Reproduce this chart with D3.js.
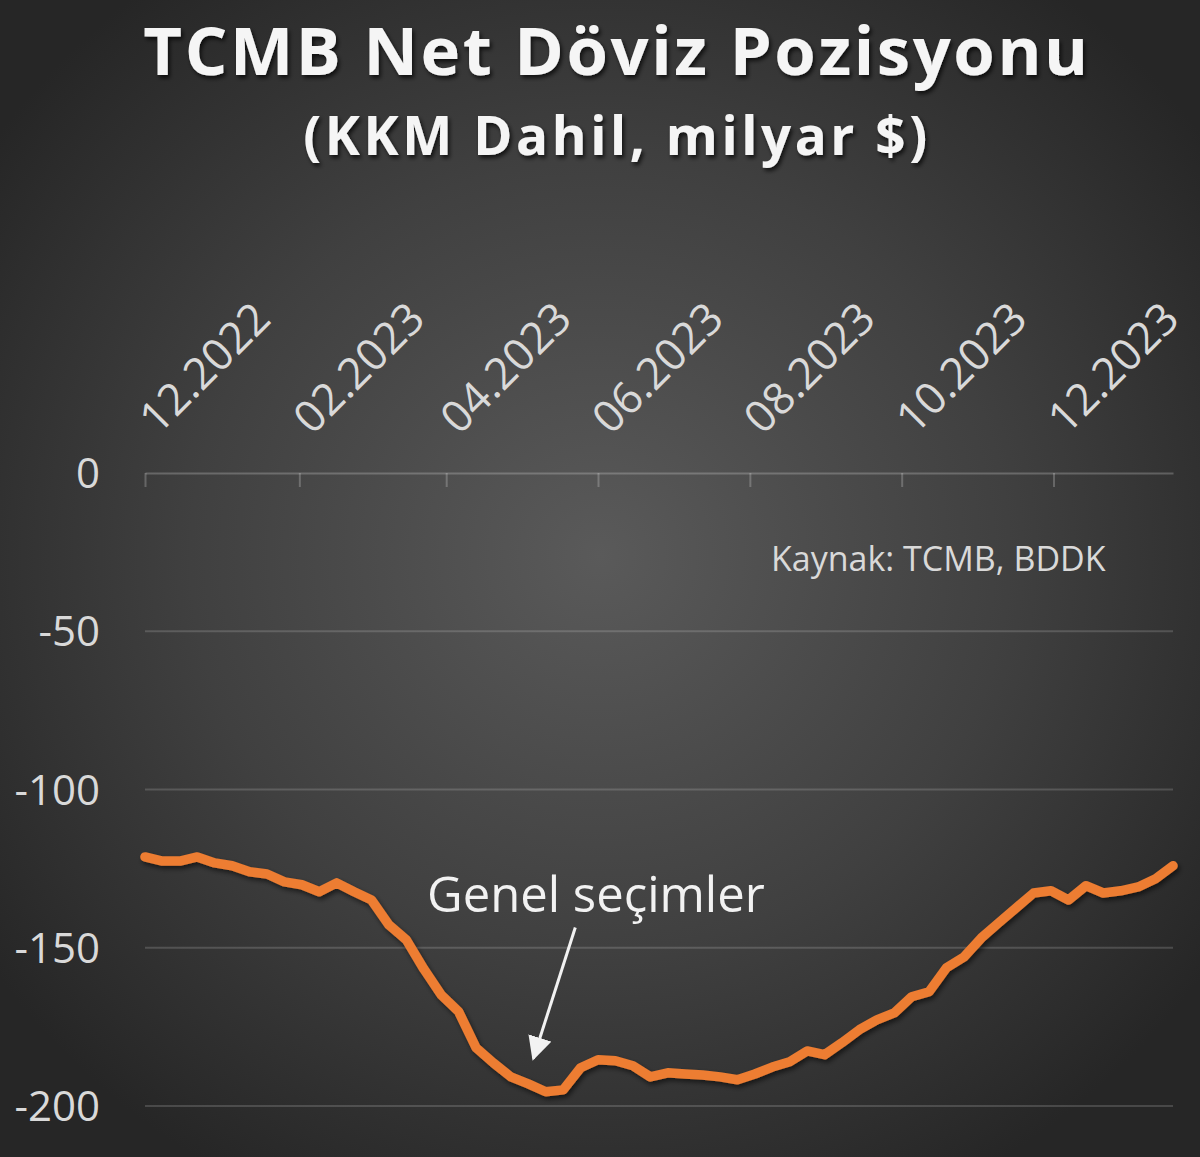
<!DOCTYPE html>
<html>
<head>
<meta charset="utf-8">
<script src="https://cdn.jsdelivr.net/npm/d3@7"></script>
<style>
	body { margin: 0; background: #2b2b2b; }
	svg { display: block; }
	.tick-label { font-family: 'Open Sans', sans-serif; fill: #d9d9d9; }
</style>
</head>
<body>
<div id="chart"></div>
<script>
// weekly observation dates
var dates = [
	'2022-12-01','2022-12-08','2022-12-15','2022-12-22','2022-12-29',
	'2023-01-05','2023-01-12','2023-01-19','2023-01-26',
	'2023-02-02','2023-02-09','2023-02-16','2023-02-23',
	'2023-03-02','2023-03-09','2023-03-16','2023-03-23','2023-03-30',
	'2023-04-06','2023-04-13','2023-04-20','2023-04-27',
	'2023-05-04','2023-05-11','2023-05-18','2023-05-25',
	'2023-06-01','2023-06-08','2023-06-15','2023-06-22','2023-06-29',
	'2023-07-06','2023-07-13','2023-07-20','2023-07-27',
	'2023-08-03','2023-08-10','2023-08-17','2023-08-24','2023-08-31',
	'2023-09-07','2023-09-14','2023-09-21','2023-09-28',
	'2023-10-05','2023-10-12','2023-10-19','2023-10-26',
	'2023-11-02','2023-11-09','2023-11-16','2023-11-23','2023-11-30',
	'2023-12-07','2023-12-14','2023-12-21','2023-12-28',
	'2024-01-04','2024-01-11','2024-01-18'
]

// net FX position incl. KKM, billion $
var values = [
	-121.3, -122.6, -122.6, -121.3, -123.2,
	-124.1, -126.0, -126.7, -129.2,
	-130.1, -132.3, -129.5, -132.3,
	-134.9, -142.8, -147.5, -156.7, -164.9,
	-170.2, -181.6, -186.4, -190.8,
	-193.0, -195.5, -194.9, -187.9,
	-185.4, -185.7, -187.3, -190.8, -189.5,
	-189.9, -190.2, -190.8, -191.7,
	-189.9, -187.7, -186.0, -182.6, -183.8,
	-180.0, -175.9, -172.8, -170.6,
	-165.5, -163.9, -156.3, -152.9,
	-146.9, -142.1, -137.4, -132.7, -132.0,
	-134.9, -130.4, -132.7, -132.0,
	-130.8, -128.2, -124.1
]

var xTickDates = ['2022-12-01','2023-02-01','2023-04-01','2023-06-01','2023-08-01','2023-10-01','2023-12-01']
var xTickLabels = ['12.2022','02.2023','04.2023','06.2023','08.2023','10.2023','12.2023']
var yTicks = [0, -50, -100, -150, -200]

var title = 'TCMB Net Döviz Pozisyonu'
var subtitle = '(KKM Dahil, milyar $)'
var source = 'Kaynak: TCMB, BDDK'
var note = 'Genel seçimler'
var noteDate = '2023-05-06'
var noteValue = -185

var parse = d3.timeParse('%Y-%m-%d')

var data = dates.map(function(d, i) {
	return { date: parse(d), value: values[i] }
})

var width = 1200
var height = 1157
var margin = { top: 473, bottom: 51, left: 145, right: 27 }

var svg = d3.select('#chart').append('svg')
	.attr('width', width)
	.attr('height', height)

var defs = svg.append('defs')

var bg = defs.append('radialGradient')
	.attr('id', 'bg')
	.attr('cx', '50%').attr('cy', '48%')
	.attr('r', '62%')
bg.append('stop').attr('offset', '0%').attr('stop-color', '#5a5a5a')
bg.append('stop').attr('offset', '55%').attr('stop-color', '#404040')
bg.append('stop').attr('offset', '100%').attr('stop-color', '#262626')

var shadow = defs.append('filter')
	.attr('id', 'shadow')
	.attr('x', '-10%').attr('y', '-10%')
	.attr('width', '120%').attr('height', '140%')
shadow.append('feDropShadow')
	.attr('dx', 2).attr('dy', 3)
	.attr('stdDeviation', 2.5)
	.attr('flood-color', '#000')
	.attr('flood-opacity', 0.55)

var textShadow = defs.append('filter')
	.attr('id', 'tshadow')
	.attr('x', '-5%').attr('y', '-20%')
	.attr('width', '110%').attr('height', '150%')
textShadow.append('feDropShadow')
	.attr('dx', 2).attr('dy', 3)
	.attr('stdDeviation', 2)
	.attr('flood-color', '#000')
	.attr('flood-opacity', 0.7)

var marker = defs.append('marker')
	.attr('id', 'arrow')
	.attr('viewBox', '0 0 10 10')
	.attr('refX', 9).attr('refY', 5)
	.attr('markerWidth', 8).attr('markerHeight', 8)
	.attr('markerUnits', 'strokeWidth')
	.attr('orient', 'auto')
marker.append('path')
	.attr('d', 'M0,0 L10,5 L0,10 Z')
	.attr('fill', '#f2f2f2')

svg.append('rect')
	.attr('width', width)
	.attr('height', height)
	.attr('fill', 'url(#bg)')

var xScale = d3.scaleTime()
	.domain(d3.extent(data, function(d) { return d.date }))
	.range([margin.left, width - margin.right])

var yScale = d3.scaleLinear()
	.domain([0, -200])
	.range([margin.top, height - margin.bottom])

// titles
svg.append('text')
	.attr('x', 617)
	.attr('y', 75)
	.attr('text-anchor', 'middle')
	.attr('font-family', 'Open Sans, sans-serif')
	.attr('font-weight', 700)
	.attr('font-size', 67)
	.attr('letter-spacing', 2.6)
	.attr('fill', '#f5f5f5')
	.attr('filter', 'url(#tshadow)')
	.text(title)

svg.append('text')
	.attr('x', 617)
	.attr('y', 155)
	.attr('text-anchor', 'middle')
	.attr('font-family', 'Open Sans, sans-serif')
	.attr('font-weight', 700)
	.attr('font-size', 53)
	.attr('letter-spacing', 3.6)
	.attr('fill', '#f5f5f5')
	.attr('filter', 'url(#tshadow)')
	.text(subtitle)

// gridlines
svg.append('g')
	.selectAll('line')
	.data(yTicks.filter(function(d) { return d !== 0 }))
	.enter().append('line')
	.attr('x1', margin.left)
	.attr('x2', width - margin.right)
	.attr('y1', function(d) { return yScale(d) })
	.attr('y2', function(d) { return yScale(d) })
	.attr('stroke', '#ffffff')
	.attr('stroke-opacity', 0.16)
	.attr('stroke-width', 2)

// zero axis with ticks pointing down
var xAxis = d3.axisBottom(xScale)
	.tickValues(xTickDates.map(parse))
	.tickSize(14)
	.tickSizeOuter(0)
	.tickFormat('')

var xAxisG = svg.append('g')
	.attr('transform', 'translate(0,' + yScale(0) + ')')
	.call(xAxis)
xAxisG.select('.domain')
	.attr('stroke', '#ffffff')
	.attr('stroke-opacity', 0.22)
	.attr('stroke-width', 2)
xAxisG.selectAll('.tick line')
	.attr('stroke', '#ffffff')
	.attr('stroke-opacity', 0.22)
	.attr('stroke-width', 2)

// rotated x labels above the plot
svg.append('g')
	.selectAll('text')
	.data(xTickDates)
	.enter().append('text')
	.attr('class', 'tick-label')
	.attr('font-size', 44)
	.attr('text-anchor', 'start')
	.attr('transform', function(d) {
		return 'translate(' + (xScale(parse(d)) + 13) + ',436) rotate(-45)'
	})
	.text(function(d, i) { return xTickLabels[i] })

// y labels
svg.append('g')
	.selectAll('text')
	.data(yTicks)
	.enter().append('text')
	.attr('class', 'tick-label')
	.attr('font-size', 42)
	.attr('text-anchor', 'end')
	.attr('x', 100)
	.attr('y', function(d) { return yScale(d) })
	.attr('dy', '0.36em')
	.text(function(d) { return d })

// source
svg.append('text')
	.attr('x', 771)
	.attr('y', 571)
	.attr('font-family', 'Open Sans, sans-serif')
	.attr('font-size', 34)
	.attr('fill', '#d9d9d9')
	.text(source)

var line = d3.line()
	.x(function(d) { return xScale(d.date) })
	.y(function(d) { return yScale(d.value) })

svg.append('path')
	.datum(data)
	.attr('d', line)
	.attr('fill', 'none')
	.attr('stroke', '#ed7d31')
	.attr('stroke-width', 9.5)
	.attr('stroke-linejoin', 'round')
	.attr('stroke-linecap', 'round')
	.attr('filter', 'url(#shadow)')

// annotation
var tipX = xScale(parse(noteDate))
var tipY = yScale(noteValue)

svg.append('line')
	.attr('x1', tipX + 42)
	.attr('y1', tipY - 131)
	.attr('x2', tipX)
	.attr('y2', tipY)
	.attr('stroke', '#f2f2f2')
	.attr('stroke-width', 3)
	.attr('marker-end', 'url(#arrow)')

svg.append('text')
	.attr('x', 427)
	.attr('y', 912)
	.attr('font-family', 'Open Sans, sans-serif')
	.attr('font-size', 49)
	.attr('fill', '#f2f2f2')
	.text(note)
</script>
</body>
</html>
